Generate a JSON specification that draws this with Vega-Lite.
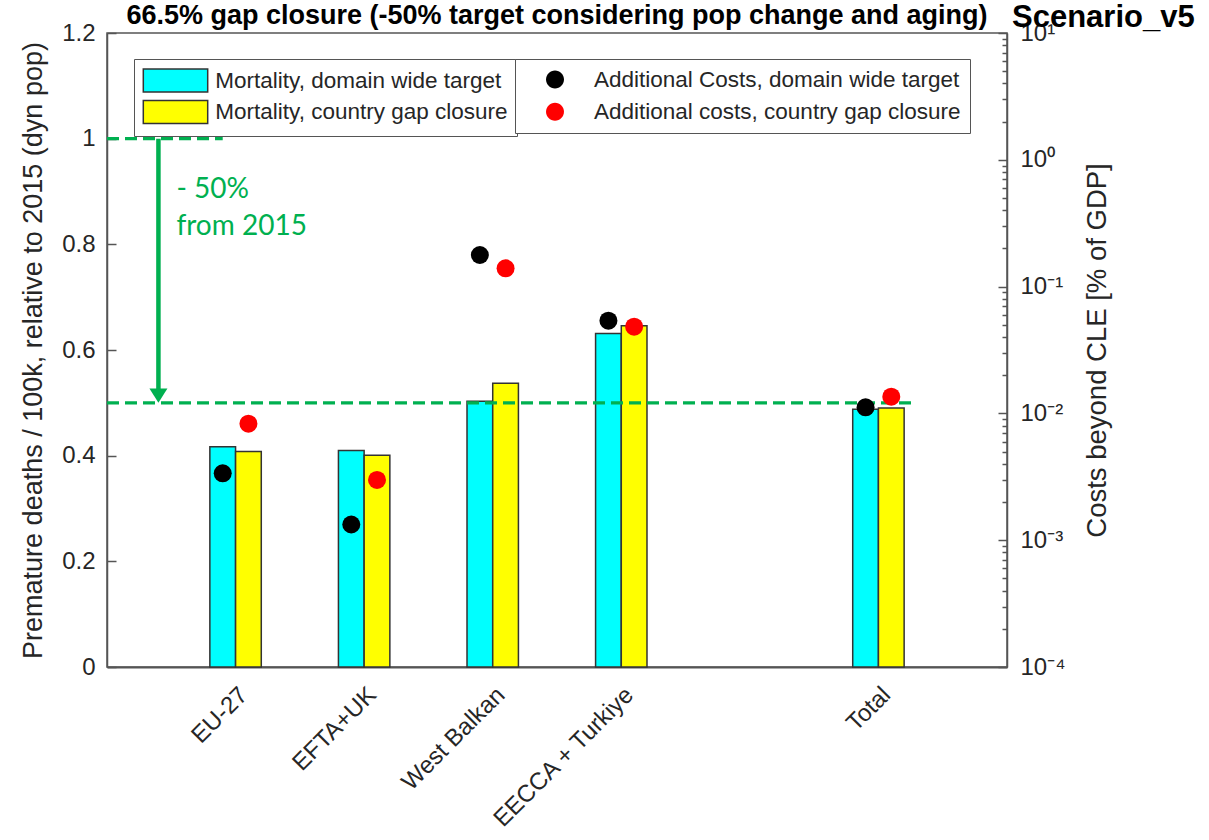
{
  "$schema": "https://vega.github.io/schema/vega-lite/v6.json",
  "width": 900,
  "height": 634,
  "autosize": {"type": "none"},
  "padding": {"left": 107, "top": 33, "right": 202, "bottom": 173},
  "background": "white",
  "config": {
    "font": "Liberation Sans",
    "view": {"stroke": "#555", "strokeWidth": 1.5},
    "axis": {
      "labelFont": "Liberation Sans",
      "titleFont": "Liberation Sans",
      "labelColor": "#262626",
      "titleColor": "#262626",
      "domainColor": "#555",
      "tickColor": "#555",
      "grid": false,
      "labelFontSize": 24,
      "titleFontSize": 27,
      "titleFontWeight": "normal",
      "domainWidth": 1.5,
      "tickWidth": 1.5
    }
  },
  "datasets": {
    "regions": [
      {"region": "EU-27", "pos": 1, "mort_domain": 0.417, "mort_country": 0.408, "cost_domain": 0.00337, "cost_country": 0.0083},
      {"region": "EFTA+UK", "pos": 2, "mort_domain": 0.410, "mort_country": 0.401, "cost_domain": 0.00133, "cost_country": 0.00299},
      {"region": "West Balkan", "pos": 3, "mort_domain": 0.503, "mort_country": 0.537, "cost_domain": 0.1775, "cost_country": 0.1393},
      {"region": "EECCA + Turkiye", "pos": 4, "mort_domain": 0.631, "mort_country": 0.646, "cost_domain": 0.0538, "cost_country": 0.0483},
      {"region": "Total", "pos": 6, "mort_domain": 0.488, "mort_country": 0.490, "cost_domain": 0.01117, "cost_country": 0.01355}
    ],
    "targets": [
      {"x": 0, "x2": 0.9, "y": 1},
      {"x": 0, "x2": 6.3, "y": 0.5}
    ],
    "arrow": [
      {"x": 0.4, "y": 1, "y2": 0.525, "tip": 0.5}
    ],
    "notes": [
      {"x": 0.54, "y": 0.903, "label": "- 50%"},
      {"x": 0.54, "y": 0.833, "label": "from 2015"}
    ],
    "headings": [
      {"x": 3.5, "y": 1.2, "label": "66.5% gap closure (-50% target considering pop change and aging)"}
    ],
    "corner": [
      {"x": 7, "y": 1.2, "label": "Scenario_v5"}
    ]
  },
  "layer": [
    {
      "layer": [
        {
          "data": {"name": "regions"},
          "mark": {"type": "bar", "xOffset": -12.86, "width": 25.7, "stroke": "#333", "strokeWidth": 1.5},
          "encoding": {
            "x": {
              "field": "pos", "type": "quantitative",
              "scale": {"domain": [0, 7], "nice": false, "zero": false, "padding": 0},
              "axis": {
                "values": [1, 2, 3, 4, 6],
                "labelExpr": "datum.value == 1 ? 'EU-27' : datum.value == 2 ? 'EFTA+UK' : datum.value == 3 ? 'West Balkan' : datum.value == 4 ? 'EECCA + Turkiye' : 'Total'",
                "labelAngle": -45,
                "labelAlign": "right",
                "labelBaseline": "middle",
                "ticks": false,
                "labelPadding": 24,
                "labelOffset": 8,
                "labelFlush": false,
                "labelOverlap": false,
                "labelLimit": 400,
                "title": null,
                "domainWidth": 2
              }
            },
            "y": {
              "field": "mort_domain", "type": "quantitative",
              "scale": {"domain": [0, 1.2], "nice": false},
              "axis": {
                "title": "Premature deaths / 100k, relative to 2015 (dyn pop)",
                "values": [0, 0.2, 0.4, 0.6, 0.8, 1, 1.2],
                "format": "~g",
                "tickSize": -9,
                "labelPadding": 21,
                "titlePadding": 14
              }
            },
            "fill": {
              "datum": "Mortality, domain wide target", "type": "nominal",
              "scale": {"domain": ["Mortality, domain wide target", "Mortality, country gap closure"], "range": ["#00FFFF", "#FFFF00"]},
              "legend": {
                "orient": "none", "legendX": 27, "legendY": 26, "title": null,
                "strokeColor": "#555", "fillColor": "white", "padding": 9,
                "symbolType": "M-2.8,-1H2.8V1H-2.8Z", "symbolSize": 529,
                "symbolStrokeColor": "#333", "symbolStrokeWidth": 1.5,
                "symbolOffset": 20, "labelOffset": 27.3,
                "labelFontSize": 22.5, "labelFont": "Liberation Sans", "labelColor": "#262626",
                "rowPadding": 2.6, "labelLimit": 500
              }
            }
          }
        },
        {
          "data": {"name": "regions"},
          "mark": {"type": "bar", "xOffset": 12.86, "width": 25.7, "stroke": "#333", "strokeWidth": 1.5},
          "encoding": {
            "x": {"field": "pos", "type": "quantitative"},
            "y": {"field": "mort_country", "type": "quantitative"},
            "fill": {"datum": "Mortality, country gap closure", "type": "nominal"}
          }
        },
        {
          "data": {"name": "targets"},
          "mark": {"type": "rule", "color": "#00B050", "strokeWidth": 3.3, "strokeDash": [12, 6]},
          "encoding": {
            "x": {"field": "x", "type": "quantitative"},
            "x2": {"field": "x2"},
            "y": {"field": "y", "type": "quantitative"}
          }
        },
        {
          "data": {"name": "arrow"},
          "mark": {"type": "rule", "color": "#00B050", "strokeWidth": 4.5},
          "encoding": {
            "x": {"field": "x", "type": "quantitative"},
            "y": {"field": "y", "type": "quantitative"},
            "y2": {"field": "y2"}
          }
        },
        {
          "data": {"name": "arrow"},
          "mark": {"type": "point", "shape": "M-1,-1.6L1,-1.6L0,0Z", "size": 324, "filled": true, "color": "#00B050", "opacity": 1},
          "encoding": {
            "x": {"field": "x", "type": "quantitative"},
            "y": {"field": "tip", "type": "quantitative"}
          }
        },
        {
          "data": {"name": "notes"},
          "mark": {"type": "text", "align": "left", "baseline": "middle", "font": "Lato", "fontSize": 28, "color": "#00B050"},
          "encoding": {
            "x": {"field": "x", "type": "quantitative"},
            "y": {"field": "y", "type": "quantitative"},
            "text": {"field": "label"}
          }
        },
        {
          "data": {"name": "headings"},
          "mark": {"type": "text", "align": "center", "baseline": "alphabetic", "font": "Liberation Sans", "fontWeight": "bold", "fontSize": 27, "color": "black", "dy": -9, "clip": false},
          "encoding": {
            "x": {"field": "x", "type": "quantitative"},
            "y": {"field": "y", "type": "quantitative"},
            "text": {"field": "label"}
          }
        },
        {
          "data": {"name": "corner"},
          "mark": {"type": "text", "align": "left", "baseline": "alphabetic", "font": "Liberation Sans", "fontWeight": "bold", "fontSize": 31, "color": "black", "dx": 5, "dy": -6, "clip": false},
          "encoding": {
            "x": {"field": "x", "type": "quantitative"},
            "y": {"field": "y", "type": "quantitative"},
            "text": {"field": "label"}
          }
        }
      ]
    },
    {
      "layer": [
        {
          "data": {"name": "regions"},
          "mark": {"type": "circle", "xOffset": -12.86, "size": 324, "opacity": 1},
          "encoding": {
            "x": {"field": "pos", "type": "quantitative"},
            "y": {
              "field": "cost_domain", "type": "quantitative",
              "scale": {"type": "log", "domain": [0.0001, 10], "nice": false},
              "axis": {
                "orient": "right",
                "title": "Costs beyond CLE [% of GDP]",
                "titleAngle": 270,
                "titleFontSize": 27.5,
                "values": [0.0001, 0.0002, 0.0003, 0.0004, 0.0005, 0.0006, 0.0007, 0.0008, 0.0009, 0.001, 0.002, 0.003, 0.004, 0.005, 0.006, 0.007, 0.008, 0.009, 0.01, 0.02, 0.03, 0.04, 0.05, 0.06, 0.07, 0.08, 0.09, 0.1, 0.2, 0.3, 0.4, 0.5, 0.6, 0.7, 0.8, 0.9, 1, 2, 3, 4, 5, 6, 7, 8, 9, 10],
                "labelExpr": "abs(log(datum.value) / LN10 - round(log(datum.value) / LN10)) > 0.01 ? '' : datum.value < 0.0005 ? '10⁻⁴' : datum.value < 0.005 ? '10⁻³' : datum.value < 0.05 ? '10⁻²' : datum.value < 0.5 ? '10⁻¹' : datum.value < 5 ? '10⁰' : '10¹'",
                "labelOverlap": false,
                "tickSize": {"condition": {"test": "abs(log(datum.value) / LN10 - round(log(datum.value) / LN10)) > 0.01", "value": -5}, "value": -9},
                "labelPadding": 22,
                "titlePadding": 46
              }
            },
            "color": {
              "datum": "Additional Costs, domain wide target", "type": "nominal",
              "scale": {"domain": ["Additional Costs, domain wide target", "Additional costs, country gap closure"], "range": ["#000000", "#FF0000"]},
              "legend": {
                "orient": "none", "legendX": 408, "legendY": 26, "title": null,
                "strokeColor": "#555", "fillColor": "white", "padding": 9,
                "symbolType": "M-0.78,0A0.78,0.78,0,1,0,0.78,0A0.78,0.78,0,1,0,-0.78,0Z", "symbolSize": 529, "symbolStrokeWidth": 0,
                "symbolOffset": 19.5, "labelOffset": 27.5,
                "labelFontSize": 22.5, "labelFont": "Liberation Sans", "labelColor": "#262626",
                "rowPadding": 9.2, "labelLimit": 500
              }
            }
          }
        },
        {
          "data": {"name": "regions"},
          "mark": {"type": "circle", "xOffset": 12.86, "size": 324, "opacity": 1},
          "encoding": {
            "x": {"field": "pos", "type": "quantitative"},
            "y": {"field": "cost_country", "type": "quantitative"},
            "color": {"datum": "Additional costs, country gap closure", "type": "nominal"}
          }
        }
      ]
    }
  ],
  "resolve": {"scale": {"y": "independent"}}
}
